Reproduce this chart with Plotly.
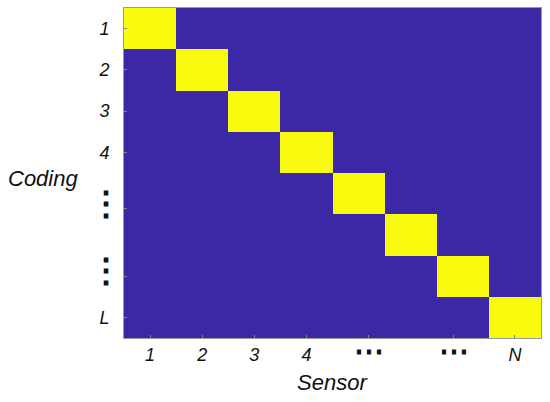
import plotly.graph_objects as go

sensors = [1, 2, 3, 4, 5, 6, 7, 8]
codings = [1, 2, 3, 4, 5, 6, 7, 8]
z = [[1 if s == c else 0 for s in sensors] for c in codings]

HDOTS = "<span style='font-size:30px;font-style:normal'><b>⋯</b></span>"
VDOTS = "<span style='font-size:34px;font-style:normal;letter-spacing:-14px'><b>⋮</b></span>"

x_tickvals = [1, 2, 3, 4, 5.2, 6.83, 8]
x_ticktext = ["1", "2", "3", "4", HDOTS, HDOTS, "N"]
y_tickvals = [1, 2, 3, 4, 5.36, 7.0, 8]
y_ticktext = ["1", "2", "3", "4", VDOTS, VDOTS, "L"]

fig = go.Figure(go.Heatmap(
    x=sensors, y=codings, z=z,
    colorscale=[[0, "#3B28A5"], [1, "#F9FB0E"]],
    showscale=False, xgap=0, ygap=0, hoverinfo="skip",
))

fam = "Liberation Sans, Arial, sans-serif"
font = dict(family=fam, size=18, color="#111111", style="italic")
fig.update_layout(
    width=550, height=402,
    margin=dict(l=124, r=9, t=8, b=64),
    paper_bgcolor="white", plot_bgcolor="white",
    xaxis=dict(tickvals=x_tickvals, ticktext=x_ticktext, tickfont=font,
               range=[0.5, 8.5], showgrid=False, zeroline=False,
               ticks="inside", ticklen=3, tickcolor="#888", ticklabelstandoff=0,
               showline=True, linecolor="#999", mirror=True),
    yaxis=dict(tickvals=y_tickvals, ticktext=y_ticktext, tickfont=font,
               range=[8.5, 0.5], showgrid=False, zeroline=False,
               ticks="inside", ticklen=3, tickcolor="#888", ticklabelstandoff=10,
               showline=True, linecolor="#999", mirror=True),
    annotations=[
        dict(text="Coding", xref="paper", yref="paper", x=-0.194, y=0.482,
             showarrow=False, xanchor="center", yanchor="middle",
             font=dict(family=fam, size=22, color="#111", style="italic")),
        dict(text="Sensor", xref="paper", yref="paper", x=0.501, y=-0.136,
             showarrow=False, xanchor="center", yanchor="middle",
             font=dict(family=fam, size=22, color="#111", style="italic")),
    ],
)

fig.write_html("out.html", config={"displayModeBar": False},
               post_script="document.body.style.margin='0';document.body.style.padding='0';")
